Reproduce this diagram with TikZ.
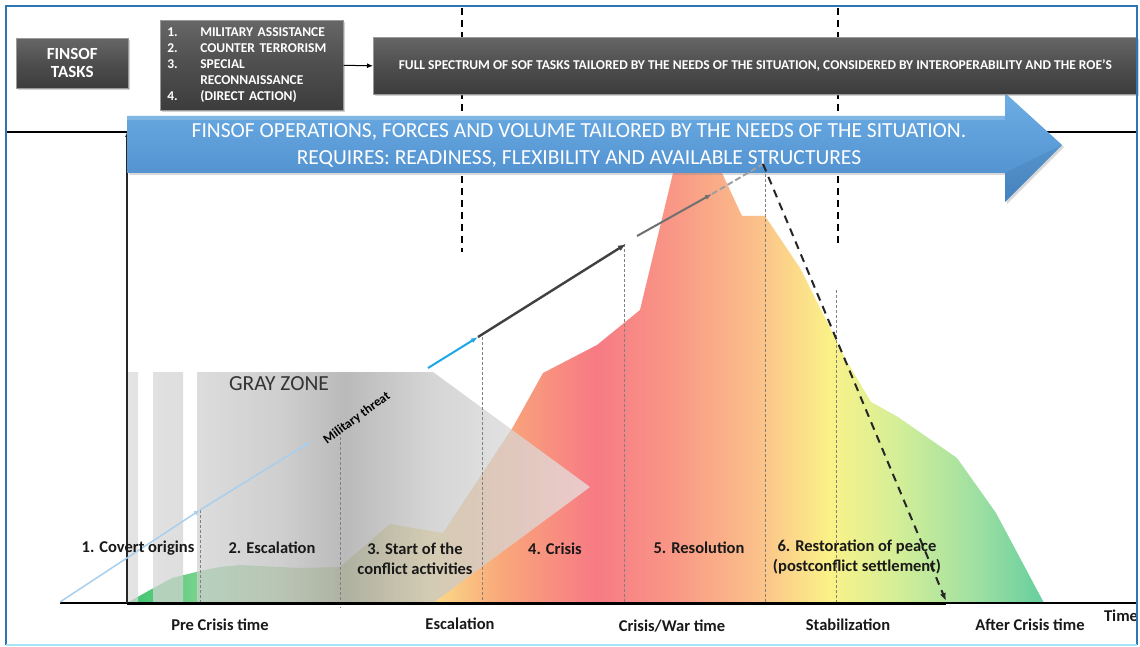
\documentclass[tikz,border=0pt]{standalone}
\usepackage{fontspec}
\setmainfont{Carlito}
\usetikzlibrary{arrows.meta,shadows,calc}
\definecolor{frameblue}{HTML}{2E75B6}
\definecolor{framecyan}{HTML}{A8E4F8}
\definecolor{boxtop}{HTML}{666666}
\definecolor{boxmid}{HTML}{4E4E4E}
\definecolor{boxbot}{HTML}{3C3C3C}
\definecolor{arrtop}{HTML}{6DAEE5}
\definecolor{arrbot}{HTML}{4A8ACA}
\definecolor{m1}{HTML}{3EC46E}
\definecolor{m2}{HTML}{86D694}
\definecolor{m3}{HTML}{CFE0A8}
\definecolor{m4}{HTML}{FBDD88}
\definecolor{m5}{HTML}{F9A87A}
\definecolor{m6}{HTML}{F77A84}
\definecolor{m7}{HTML}{F99A86}
\definecolor{m8}{HTML}{FBC28A}
\definecolor{m9}{HTML}{FBF288}
\definecolor{m10}{HTML}{D2EE98}
\definecolor{m11}{HTML}{9CDFA2}
\definecolor{m12}{HTML}{64CE9E}
\definecolor{g1}{HTML}{DADADA}
\definecolor{g2}{HTML}{CFCFCF}
\definecolor{g3}{HTML}{BDBDBD}
\definecolor{g4}{HTML}{A0A0A0}
\definecolor{g5}{HTML}{B8B8B8}
\definecolor{g6}{HTML}{C6C6C6}
\definecolor{g7}{HTML}{E8E8E8}
\definecolor{lightblue}{HTML}{A8CFEE}
\definecolor{cyanarr}{HTML}{1FA6E6}
\definecolor{darkarr}{HTML}{404040}
\definecolor{medarr}{HTML}{707070}
\definecolor{lgarr}{HTML}{A0A0A0}
\definecolor{sepgray}{HTML}{808080}
\pgfdeclarehorizontalshading{grayzone}{100bp}{color(0bp)=(g1); color(25bp)=(g1); color(33bp)=(g2); color(41.5bp)=(g3); color(48.5bp)=(g4); color(54.5bp)=(g5); color(58bp)=(g6); color(75bp)=(g7); color(100bp)=(g7)}
\begin{document}
\begin{tikzpicture}[x=1pt,y=-1pt,
  darkbox/.style={top color=boxtop, bottom color=boxbot, middle color=boxmid, draw=black!40, line width=0.6pt, text=white,
    drop shadow={opacity=0.35, shadow xshift=2pt, shadow yshift=-2pt}},
  lbl/.style={font=\bfseries\fontsize{16.5}{20}\selectfont, inner sep=0pt, align=center, text=black!90},
  sep/.style={sepgray, line width=0.8pt, dash pattern=on 3pt off 2pt},
  bigdash/.style={black, line width=1.6pt, dash pattern=on 7pt off 5pt}]
\useasboundingbox (0,0) rectangle (1140,647);
\fill[white] (0,0) rectangle (1140,647);

% horizontal reference line and thick dashed verticals
\coordinate (hl) at (7,132);
\coordinate (hr) at (1137,132);
\draw[black, line width=1.4pt] (hl) -- (hr);
\coordinate (d1t) at (462,8);
\coordinate (d1b) at (462,252);
\coordinate (d2t) at (838,8);
\coordinate (d2b) at (838,244);
\draw[bigdash] (d1t) -- (d1b);
\draw[bigdash] (d2t) -- (d2b);

% mountain
\begin{scope}
\clip (127,603) -- (150,590) -- (172,578) -- (200,571) -- (220,567) -- (240,565) -- (300,568) -- (340,567)
  -- (390,524) -- (443,533) -- (513,427) -- (543,373) -- (597,345) -- (640,310) -- (673,173)
  -- (680,140) -- (715,140) -- (722,173) -- (742,216) -- (765,216) -- (800,268) -- (846,360)
  -- (871,402) -- (898,417) -- (957,458) -- (996,513) -- (1044,603) -- cycle;
\foreach \xa/\ca/\xb/\cb in {127/m1/215/m2, 215/m2/330/m3, 330/m3/430/m4, 430/m4/500/m5, 500/m5/595/m6,
   595/m6/680/m7, 680/m7/760/m8, 760/m8/830/m9, 830/m9/900/m10, 900/m10/980/m11, 980/m11/1045/m12}
  \shade[left color=\ca, right color=\cb] (\xa-0.5,120) rectangle (\xb+0.5,610);
\end{scope}

% gray zone
\shade[shading=grayzone, fill opacity=0.72]
  (127,372) rectangle (138,603)
  (153,372) rectangle (183,603)
  (197,372) -- (433,372) -- (590,487) -- (433,603) -- (197,603) -- cycle;
\node[font=\fontsize{21.5}{24}\selectfont, text=black!80, inner sep=0pt] (gz) at (279,384) {GRAY ZONE};

% phase separators
\foreach \x/\yt/\yb in {200/510/603, 340/432/608, 482/337/605, 624/244/603, 765/164/603, 836/290/603}
  \draw[sep] (\x,\yt) -- (\x,\yb);

% axes
\coordinate (axL) at (60,603);
\coordinate (axR) at (1137,603);
\coordinate (ax0) at (127,603);
\coordinate (axtop) at (127,132);
\coordinate (tl) at (946,603);
\draw[black, line width=1.2pt] (axL) -- (axR);
\draw[black, line width=3pt] (ax0) -- (tl);
\draw[black!85, line width=1.5pt, -{Latex[length=5pt,width=4pt]}] (ax0) -- (axtop);

% blue arrow
\coordinate (ba1) at (127,116);
\coordinate (ba2) at (1005,116);
\coordinate (ba3) at (1005,93);
\coordinate (ba4) at (1062,145);
\coordinate (ba5) at (1005,202);
\coordinate (ba6) at (1005,173);
\coordinate (ba7) at (127,173);
\shade[top color=arrtop, bottom color=arrbot, drop shadow={opacity=0.3, shadow xshift=2pt, shadow yshift=-2pt}]
  (ba1) -- (ba2) -- (ba3) -- (ba4) -- (ba5) -- (ba6) -- (ba7) -- cycle;
\fill[white, opacity=0.18] (ba1) -- (ba2) -- ($(ba2)+(0,4)$) -- ($(ba1)+(0,4)$) -- cycle;
\fill[black, opacity=0.06] (ba4) -- (ba5) -- (ba6) -- cycle;
\node[font=\fontsize{21.5}{27}\selectfont, text=white, align=center, inner sep=0pt] (ops) at (579,145)
  {FINSOF OPERATIONS, FORCES AND VOLUME TAILORED BY THE NEEDS OF THE SITUATION.\\REQUIRES: READINESS, FLEXIBILITY AND AVAILABLE STRUCTURES};

% threat arrows
\coordinate (o) at (60,602);
\coordinate (a1) at (200,510);
\coordinate (a2) at (310,442);
\coordinate (c1) at (428,368);
\coordinate (c2) at (478,337);
\coordinate (c3) at (626,244);
\coordinate (c4) at (637,236);
\coordinate (c5) at (712,194);
\coordinate (c6) at (763,164);
\coordinate (c7) at (946,601);
\draw[lightblue, line width=1.5pt, -{Latex[length=6pt,width=5pt]}] (o) -- (a1);
\draw[lightblue, line width=1.5pt, -{Latex[length=6pt,width=5pt]}] (a1) -- (a2);
\draw[cyanarr, line width=2pt, -{Latex[length=7pt,width=5pt]}] (c1) -- (c2);
\draw[darkarr, line width=2.4pt, -{Latex[length=8pt,width=6pt]}] (c2) -- (c3);
\draw[medarr, line width=2pt, -{Latex[length=7pt,width=5pt]}] (c4) -- (c5);
\draw[lgarr, line width=2pt, dash pattern=on 6pt off 3pt] (c5) -- (c6);
\draw[black!85, line width=2pt, dash pattern=on 8pt off 6pt, -{Latex[length=8pt,width=6pt]}] (c6) -- (c7);
\node[font=\bfseries\fontsize{13}{15}\selectfont, rotate=36, inner sep=0pt] (mt) at (357,418) {Military threat};

% header boxes
\node[darkbox, minimum width=112pt, minimum height=50pt, anchor=north west, align=center,
  font=\bfseries\fontsize{17}{18}\selectfont] (tasks) at (16,38) {FINSOF\\TASKS};
\node[darkbox, minimum width=183pt, minimum height=90pt, text width=169pt, inner sep=7pt, align=left, anchor=north west,
  font=\bfseries\fontsize{13.5}{16}\selectfont] (tasklist) at (160,20)
  {\makebox[33pt][l]{1.}MILITARY ASSISTANCE\\\makebox[33pt][l]{2.}COUNTER TERRORISM\\\makebox[33pt][l]{3.}SPECIAL\\\makebox[33pt][l]{}RECONNAISSANCE\\\makebox[33pt][l]{4.}(DIRECT ACTION)};
\node[darkbox, minimum width=764pt, minimum height=57pt, anchor=north west,
  font=\bfseries\fontsize{13.5}{15}\selectfont] (spectrum) at (373,37)
  {FULL SPECTRUM OF SOF TASKS TAILORED BY THE NEEDS OF THE SITUATION, CONSIDERED BY INTEROPERABILITY AND THE ROE’S};
\draw[black, line width=1pt, -{Latex[length=6pt,width=5pt]}] (tasklist.east) -- (spectrum.west);

% phase labels
\node[lbl] (p1) at (138,548) {1. Covert origins};
\node[lbl] (p2) at (272,548) {2. Escalation};
\node[lbl] (p3) at (415,559) {3. Start of the\\conflict activities};
\node[lbl] (p4) at (555,549) {4. Crisis};
\node[lbl] (p5) at (699,548) {5. Resolution};
\node[lbl] (p6) at (857,557) {6. Restoration of peace\\(postconflict settlement)};

% time labels
\node[lbl] (t1) at (220,625) {Pre Crisis time};
\node[lbl] (t2) at (460,624) {Escalation};
\node[lbl] (t3) at (672,626) {Crisis/War time};
\node[lbl] (t4) at (848,625) {Stabilization};
\node[lbl] (t5) at (1030,625) {After Crisis time};
\node[lbl] (t6) at (1121,616) {Time};

% frame
\draw[frameblue, line width=1.5pt] (6,645) -- (6,6) -- (1137,6) -- (1137,645);
\draw[framecyan, line width=2pt] (6,645) -- (1137,645);
\end{tikzpicture}
\end{document}
